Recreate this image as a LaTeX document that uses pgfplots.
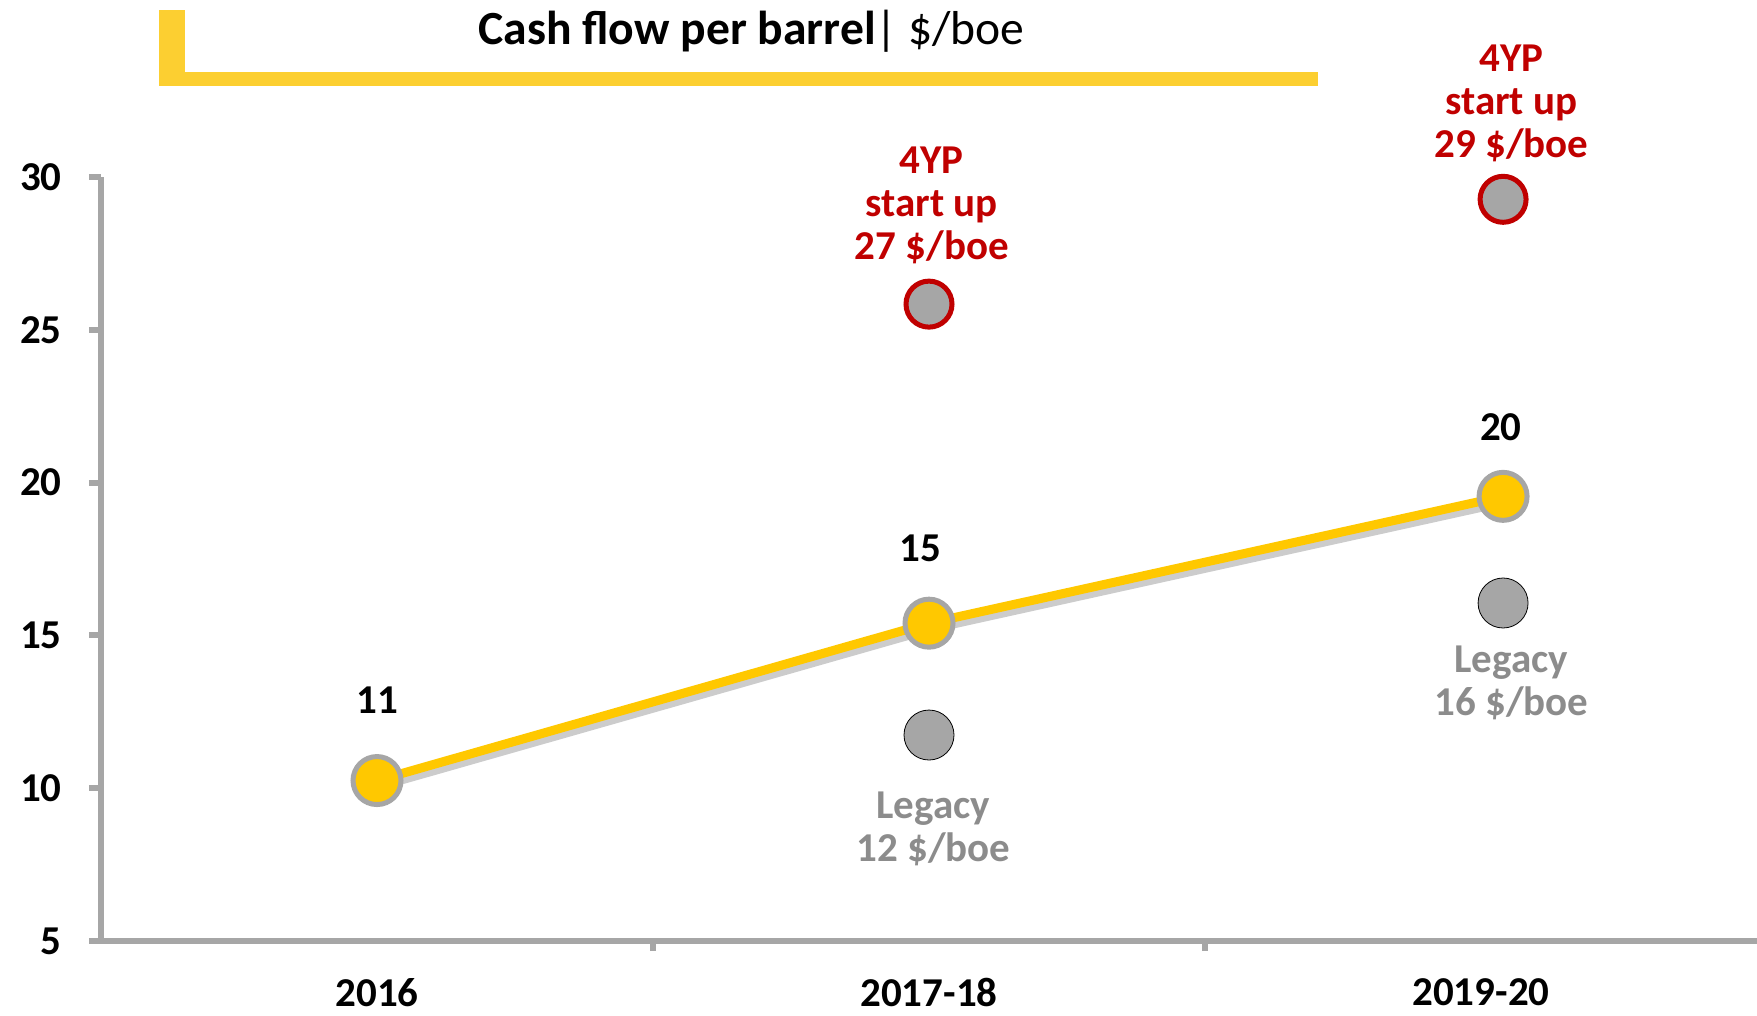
\documentclass[border=0pt]{standalone}
\usepackage{pgfplots}
\pgfplotsset{compat=1.18}
\usepackage{fontspec}
\setmainfont{Carlito}
\definecolor{cfYellow}{HTML}{FFC800}
\definecolor{barYellow}{HTML}{FCCF31}
\definecolor{axGray}{HTML}{A6A6A6}
\definecolor{cfRed}{HTML}{C00000}
\definecolor{txtGray}{HTML}{8C8C8C}
\begin{document}
\begin{tikzpicture}
\path[use as bounding box] (-50.5bp,-37.5bp) rectangle (828bp,470.5bp);
\begin{axis}[
  at={(0,0)}, anchor=south west,
  scale only axis, width=828bp, height=382bp,
  xmin=-0.5, xmax=2.5, ymin=5, ymax=30,
  axis x line=bottom, axis y line=left,
  axis line style={axGray, line width=3bp, -},
  xtick={0,1,2}, xticklabels={2016,2017-18,2019-20},
  minor xtick={0.5,1.5},
  ytick={5,10,15,20,25,30},
  tick align=outside,
  major tick length=6bp, minor tick length=5bp,
  major x tick style={draw=none},
  minor x tick style={axGray, line width=3bp},
  major y tick style={axGray, line width=3bp},
  tick label style={font=\fontsize{20.5bp}{24bp}\selectfont\bfseries},
  /pgf/number format/assume math mode=true,
  xticklabel style={inner sep=0pt, anchor=north, yshift=-12.5bp},
  yticklabel style={inner sep=0pt, anchor=east, xshift=-13.5bp},
  clip=false,
]
% shadow of the line
\addplot[forget plot, draw=black!20, line width=4bp, transform canvas={xshift=1.5bp, yshift=-3bp}]
  coordinates {(0,10.25) (1,15.4) (2.04,19.55)};
% main cash flow series
\addplot[draw=cfYellow, line width=4.5bp, mark=*, mark size=12bp,
  mark options={fill=cfYellow, draw=axGray, line width=2.5bp}]
  coordinates {(0,10.25) (1,15.4) (2.04,19.55)};
% legacy
\addplot[only marks, mark=*, mark size=12.5bp, mark options={fill=axGray, draw=none}]
  coordinates {(1,11.74) (2.04,16.06)};
% 4YP start up
\addplot[only marks, mark=*, mark size=11.5bp, mark options={fill=axGray, draw=cfRed, line width=2.5bp}]
  coordinates {(1,25.84) (2.04,29.27)};

\begin{scope}[every node/.style={font=\fontsize{20.5bp}{21.5bp}\selectfont\bfseries, align=center, inner sep=0pt}]
\node at (axis cs:0,12.89) {11};
\node at (axis cs:0.984,17.86) {15};
\node at (axis cs:2.036,21.82) {20};
\node[text=cfRed] at (axis cs:1.005,29.08) {4YP\\start up\\27 \$/boe};
\node[text=cfRed] at (axis cs:2.055,32.42) {4YP\\start up\\29 \$/boe};
\node[text=txtGray] at (axis cs:1.008,8.66) {Legacy\\12 \$/boe};
\node[text=txtGray] at (axis cs:2.055,13.43) {Legacy\\16 \$/boe};
\end{scope}
\end{axis}
\fill[barYellow] (29bp,427.5bp) rectangle (42bp,465.5bp);
\fill[barYellow] (29bp,427.5bp) rectangle (608.5bp,434.5bp);
\node[anchor=base west, inner sep=0pt, font=\fontsize{23.8bp}{28bp}\selectfont] at (188.5bp,448bp) {\textbf{Cash flow per barrel}| \$/boe};
\end{tikzpicture}
\end{document}
